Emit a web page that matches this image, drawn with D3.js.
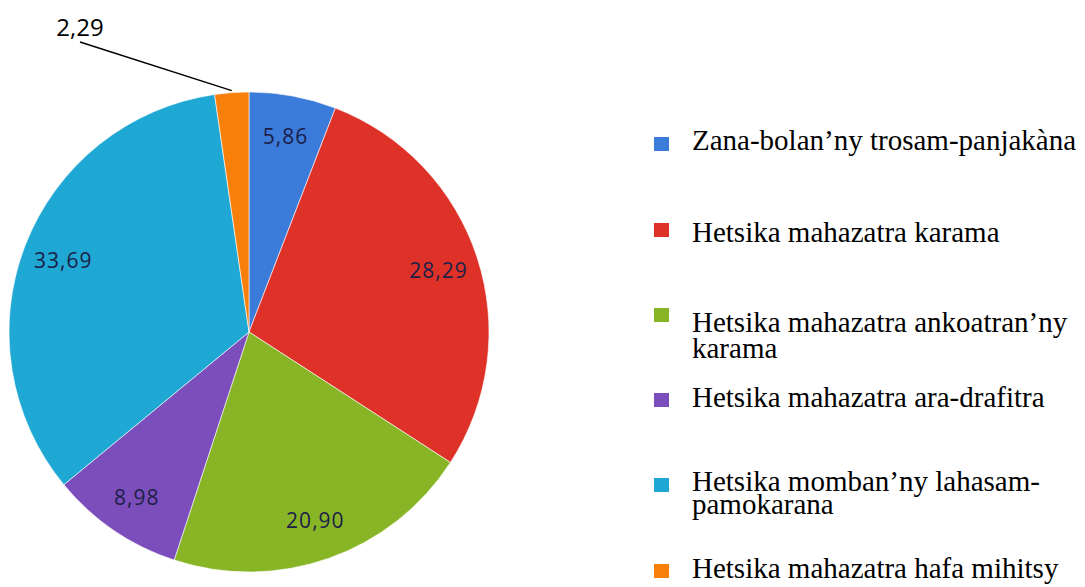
<!DOCTYPE html>
<html><head><meta charset="utf-8">
<script src="https://cdn.jsdelivr.net/npm/d3@7"></script>
<style>
body{margin:0;background:#fff}
#wrap{position:relative;width:1085px;height:587px;overflow:hidden}
svg{display:block;position:absolute;left:0;top:0}
.lgt{position:absolute;font-family:'Liberation Serif','Times New Roman',serif;font-size:29px;line-height:22px;height:22px;color:#000;white-space:nowrap}
</style>
</head><body><div id="wrap"><svg id="c" width="1085" height="587"></svg></div>
<script>
const categories = [
  "Zana-bolan’ny trosam-panjakàna",
  "Hetsika mahazatra karama",
  "Hetsika mahazatra ankoatran’ny karama",
  "Hetsika mahazatra ara-drafitra",
  "Hetsika momban’ny lahasam-pamokarana",
  "Hetsika mahazatra hafa mihitsy"
];
const legendLines = [
  ["Zana-bolan’ny trosam-panjakàna"],
  ["Hetsika mahazatra karama"],
  ["Hetsika mahazatra ankoatran’ny", "karama"],
  ["Hetsika mahazatra ara-drafitra"],
  ["Hetsika momban’ny lahasam-", "pamokarana"],
  ["Hetsika mahazatra hafa mihitsy"]
];
const values = [5.86, 28.29, 20.90, 8.98, 33.69, 2.29];
const valueLabels = ["5,86", "28,29", "20,90", "8,98", "33,69", "2,29"];
const colors = ["#3b7bd9", "#de3229", "#88b525", "#7c4ebc", "#1fa8d4", "#f77f0a"];

// layout constants
const cx = 249, cy = 332, R = 240;
const legendBaselines = [[150], [242], [332, 358], [407], [491, 514], [578]];
const legendSquareTop = [137, 223, 308, 393, 478, 564];

const svg = d3.select("#c");
const g = svg.append("g").attr("transform", `translate(${cx},${cy})`);
const pie = d3.pie().sort(null).value(d => d);
const arcs = pie(values);
const arc = d3.arc().innerRadius(0).outerRadius(R);
const labelArc = d3.arc().innerRadius(R * 0.83).outerRadius(R * 0.83);

g.selectAll("path").data(arcs).join("path")
  .attr("d", arc).attr("fill", (d, i) => colors[i])
  .attr("stroke", "#ffffff").attr("stroke-width", 0.6);

g.selectAll("text.in").data(arcs.filter((d, i) => i < 5)).join("text")
  .attr("class", "in")
  .attr("transform", d => `translate(${labelArc.centroid(d)})`)
  .attr("text-anchor", "middle").attr("dominant-baseline", "central")
  .style("font-family", "'Open Sans', sans-serif").style("font-size", "21px")
  .attr("letter-spacing", 1)
  .attr("fill", "#1c2048")
  .text(d => valueLabels[d.index]);

// outside label with leader line for the smallest slice
const last = arcs[5];
const mid = (last.startAngle + last.endAngle) / 2;
const edge = [Math.sin(mid) * R, -Math.cos(mid) * R];
const lx = 80 - cx, ly = 42 - cy;
g.append("line").attr("x1", edge[0]).attr("y1", edge[1] - 2).attr("x2", lx).attr("y2", ly)
  .attr("stroke", "#000").attr("stroke-width", 1.5);
g.append("text").attr("x", lx).attr("y", ly - 6)
  .attr("text-anchor", "middle")
  .style("font-family", "'Open Sans', sans-serif").style("font-size", "24px")
  .attr("fill", "#000").text(valueLabels[5]);

// legend
svg.append("g").selectAll("rect").data(categories).join("rect")
  .attr("x", 654).attr("y", (d, i) => legendSquareTop[i])
  .attr("width", 15).attr("height", 14).attr("fill", (d, i) => colors[i]);

const wrap = d3.select("#wrap");
const baseOff = (22 - 29 * 1.107) / 2 + 29 * 0.891;
categories.forEach((c, i) => {
  legendLines[i].forEach((ln, j) => {
    wrap.append("div").attr("class", "lgt")
      .style("left", "692px")
      .style("top", (legendBaselines[i][j] - baseOff) + "px")
      .text(ln);
  });
});
</script></body></html>
